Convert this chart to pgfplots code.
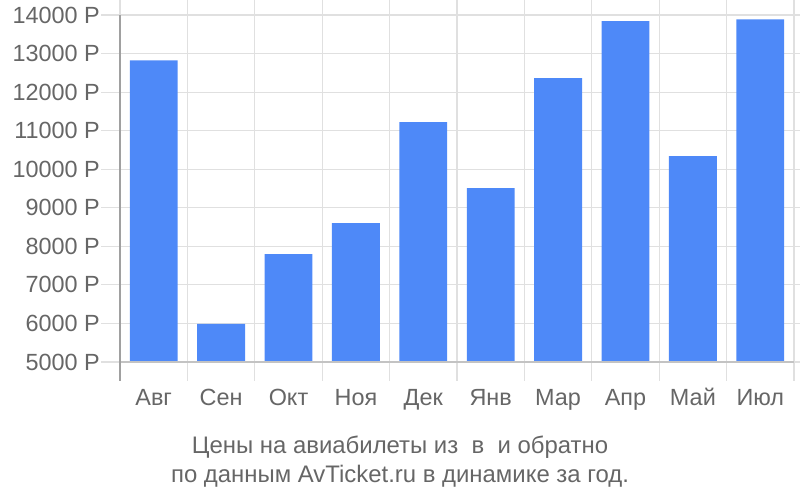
\documentclass[border=0pt]{standalone}
\usepackage{pgfplots}
\pgfplotsset{compat=1.18}
\usepackage{fontspec}
\setmainfont{Liberation Sans}
\definecolor{barblue}{HTML}{4E89F8}
\definecolor{txt}{HTML}{666666}
\definecolor{gridc}{HTML}{E0E0E0}
\definecolor{axisc}{HTML}{A0A0A0}
\begin{document}
\begin{tikzpicture}
\path[use as bounding box] (0,0) rectangle (800bp,500bp);
\begin{axis}[
  at={(120bp,138bp)}, anchor=south west,
  scale only axis, width=674bp, height=347bp,
  xmin=-0.5, xmax=9.5, ymin=5000, ymax=14000,
  axis line style={draw=none},
  scaled y ticks=false,
  ytick={5000,6000,7000,8000,9000,10000,11000,12000,13000,14000},
  yticklabels={5000 Р,6000 Р,7000 Р,8000 Р,9000 Р,10000 Р,11000 Р,12000 Р,13000 Р,14000 Р},
  xtick={-0.5,0.5,1.5,2.5,3.5,4.5,5.5,6.5,7.5,8.5,9.5},
  xticklabels={},
  extra x ticks={0,1,2,3,4,5,6,7,8,9},
  extra x tick labels={Авг,Сен,Окт,Ноя,Дек,Янв,Мар,Апр,Май,Июл},
  extra x tick style={major tick length=0pt, grid=none,
     xticklabel style={anchor=base, inner sep=0pt, yshift=-43bp}},
  xmajorgrids, ymajorgrids,
  grid style={gridc, line width=1.2bp},
  tick align=outside,
  major tick length=19bp,
  tick style={gridc, line width=1.2bp},
  tick label style={font=\fontsize{23.5}{28}\selectfont, text=txt},
  yticklabel style={anchor=east, inner sep=0pt, xshift=-1bp},
  ybar, bar width=0.71,
]
\addplot[fill=barblue, draw=none] coordinates {
  (0,12820) (1,5990) (2,7800) (3,8600) (4,11220)
  (5,9510) (6,12360) (7,13840) (8,10340) (9,13885)
};
\end{axis}
\draw[gridc!70!gray, line width=1.2bp] (120bp,138bp) -- (794bp,138bp);
\draw[axisc, line width=1.5bp] (120bp,485bp) -- (120bp,119bp);
\node[align=center, text=txt, font=\fontsize{24}{29}\selectfont, anchor=base] at (400bp,18bp)
  {Цены на авиабилеты из\ \ в\ \ и обратно\\по данным AvTicket.ru в динамике за год.};
\end{tikzpicture}
\end{document}
